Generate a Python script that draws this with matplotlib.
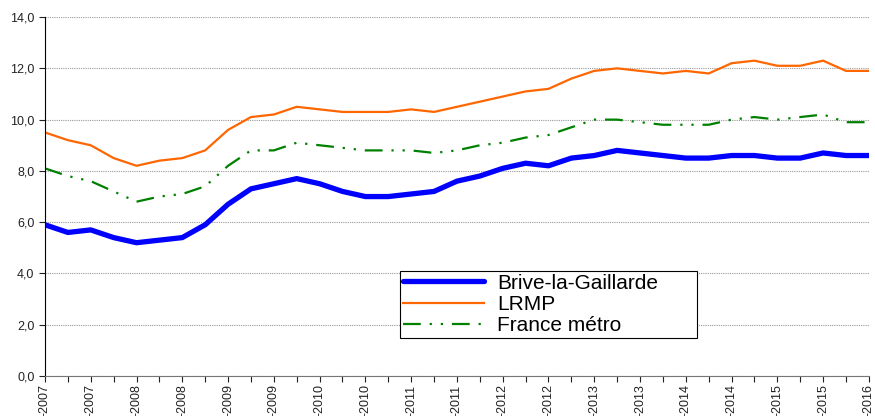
import matplotlib.pyplot as plt
from matplotlib.ticker import FuncFormatter

plt.rcParams['font.family'] = ['Liberation Sans', 'DejaVu Sans']

# quarterly values, 2007 to 2016
brive = [5.9, 5.6, 5.7, 5.4, 5.2, 5.3, 5.4, 5.9, 6.7, 7.3, 7.5, 7.7, 7.5, 7.2, 7.0, 7.0,
         7.1, 7.2, 7.6, 7.8, 8.1, 8.3, 8.2, 8.5, 8.6, 8.8, 8.7, 8.6, 8.5, 8.5, 8.6, 8.6,
         8.5, 8.5, 8.7, 8.6, 8.6]
lrmp = [9.5, 9.2, 9.0, 8.5, 8.2, 8.4, 8.5, 8.8, 9.6, 10.1, 10.2, 10.5, 10.4, 10.3, 10.3, 10.3,
        10.4, 10.3, 10.5, 10.7, 10.9, 11.1, 11.2, 11.6, 11.9, 12.0, 11.9, 11.8, 11.9, 11.8, 12.2, 12.3,
        12.1, 12.1, 12.3, 11.9, 11.9]
france = [8.1, 7.8, 7.6, 7.2, 6.8, 7.0, 7.1, 7.4, 8.2, 8.8, 8.8, 9.1, 9.0, 8.9, 8.8, 8.8,
          8.8, 8.7, 8.8, 9.0, 9.1, 9.3, 9.4, 9.7, 10.0, 10.0, 9.9, 9.8, 9.8, 9.8, 10.0, 10.1,
          10.0, 10.1, 10.2, 9.9, 9.9]
tick_labels = ['-2007', '-2007', '-2008', '-2008', '-2009', '-2009', '-2010', '-2010',
               '-2011', '-2011', '-2012', '-2012', '-2013', '-2013', '-2014', '-2014',
               '-2015', '-2015', '-2016']

x = list(range(len(brive)))

fig = plt.figure(figsize=(8.75, 4.16), dpi=100)
ax = fig.add_axes([0.0514, 0.096, 0.9416, 0.863])

ax.plot(x, brive, color='#0000ff', lw=3.8, label='Brive-la-Gaillarde', solid_capstyle='round')
ax.plot(x, lrmp, color='#ff6600', lw=1.6, label='LRMP')
ax.plot(x, france, color='#008000', lw=1.6, dashes=(8, 4, 1, 4, 1, 4), label='France métro')

ax.set_xlim(0, len(x) - 1)
ax.set_ylim(0, 14)
ax.set_yticks(range(0, 15, 2))
ax.yaxis.set_major_formatter(FuncFormatter(lambda v, p: f'{v:.1f}'.replace('.', ',')))
ax.set_xticks(x)
ax.set_xticklabels([tick_labels[i // 2] if i % 2 == 0 else '' for i in x], rotation=90)
ax.tick_params(axis='both', labelsize=9, colors='#222222', length=4, width=0.8)
ax.tick_params(axis='x', pad=2)

ax.grid(axis='y', color='#999999', linestyle=(0, (1, 1)), lw=0.8)
ax.set_axisbelow(True)
for s in ['top', 'right']:
    ax.spines[s].set_visible(False)
ax.spines['left'].set_color('black')
ax.spines['bottom'].set_color('#777777')

leg = ax.legend(loc='lower left', bbox_to_anchor=(0.431, 0.106, 0.360, 0.19), mode='expand',
                fontsize=15, fancybox=False, framealpha=1, edgecolor='black', borderaxespad=0,
                handlelength=3.9, labelspacing=0.1, borderpad=0.15, handletextpad=0.6)
leg.get_frame().set_linewidth(0.8)

fig.savefig('out.png', dpi=100)
